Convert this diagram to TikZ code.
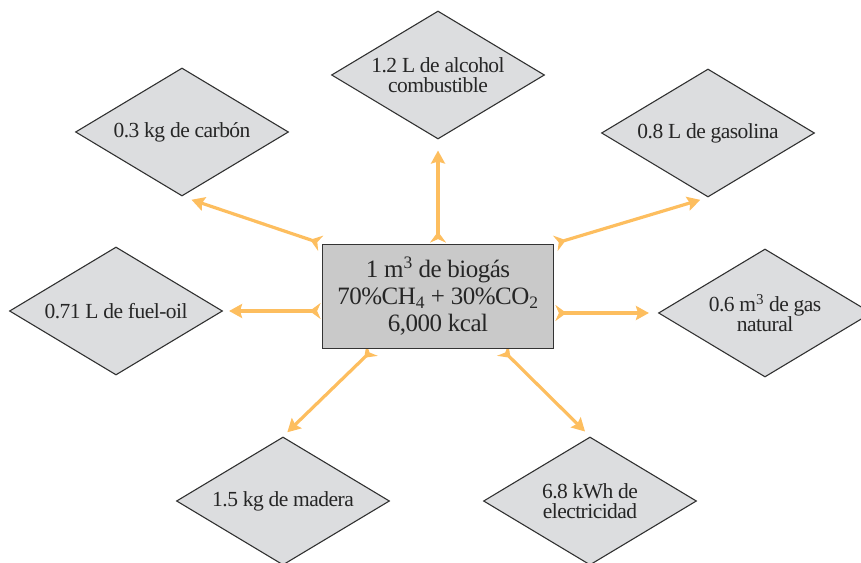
\documentclass[tikz,border=0pt]{standalone}
\usepackage{fontspec}
\setmainfont{Liberation Serif}
\usepackage{xcolor}
\usepackage{tikz}
\usetikzlibrary{arrows.meta, calc, shapes.geometric, backgrounds}

\definecolor{flowcol}{HTML}{FDBE5F}
\definecolor{boxfill}{HTML}{C9C9C9}
\definecolor{diafill}{HTML}{DCDDDF}
\definecolor{edgecol}{HTML}{333333}

\tikzset{
  product/.style={diamond, draw=edgecol, fill=diafill, line width=1.1pt,
    minimum width=213pt, minimum height=128pt, inner sep=0pt,
    label={[align=center, text=black!85,
      font=\fontsize{21.5}{20}\selectfont\addfontfeatures{LetterSpace=-2.5}]center:#1}},
  source/.style={rectangle, draw=edgecol, fill=boxfill, line width=1.8pt,
    minimum width=231pt, minimum height=104pt, align=center, text=black!85,
    font=\fontsize{25}{27}\selectfont\addfontfeatures{LetterSpace=-2}},
  flow/.style={draw=flowcol, line width=3.2pt, shorten <=1pt,
    {Stealth[reversed, length=11pt, width=16pt, inset=3.5pt]}-{Stealth[length=13pt, width=14pt, inset=2pt]}}
}

\begin{document}
\begin{tikzpicture}[x=1pt, y=1pt]
    % 1. Marco del dibujo
    \useasboundingbox (0,0) rectangle (861,562);

    % 2. Caja central
    \node[source] (biogas) at (438,265.5)
        {1 m\textsuperscript{3} de biogás\\
         70\%CH\textsubscript{4} + 30\%CO\textsubscript{2}\\
         6,000 kcal};

    % 3. Equivalencias (rombos)
    \node[product={1.2 L de alcohol\\combustible}] (alcohol)  at (438,487) {};
    \node[product={0.3 kg de carbón}]              (carbon)   at (182,430) {};
    \node[product={0.8 L de gasolina}]             (gasolina) at (708,429) {};
    \node[product={0.71 L de fuel-oil}]            (fueloil)  at (116,251) {};
    \node[product={0.6 m\textsuperscript{3} de gas\\natural}] (gas) at (765,249) {};
    \node[product={1.5 kg de madera}]              (madera)   at (283,61)  {};
    \node[product={6.8 kWh de\\electricidad}]      (elec)     at (590,61)  {};

    % 4. Flechas desde la caja (detras de la caja)
    \begin{scope}[on background layer]
    \draw[flow, shorten >=11pt] (biogas.north) -- (alcohol.south);
    \draw[flow, shorten >=10pt] (biogas.north west) -- (carbon.south);
    \draw[flow, shorten >=8pt]  (biogas.north east) -- (gasolina.south);
    \draw[flow, shorten >=6pt]  (biogas.west |- fueloil.east) -- (fueloil.east);
    \draw[flow, shorten >=9pt]  (biogas.east |- gas.west) -- (gas.west);
    \draw[flow, shorten >=6pt]  ($(biogas.south)!0.56!(biogas.south west)$) -- (madera.north);
    \draw[flow, shorten >=7pt]  ($(biogas.south)!0.55!(biogas.south east)$) -- (elec.north);
    \end{scope}
\end{tikzpicture}
\end{document}
